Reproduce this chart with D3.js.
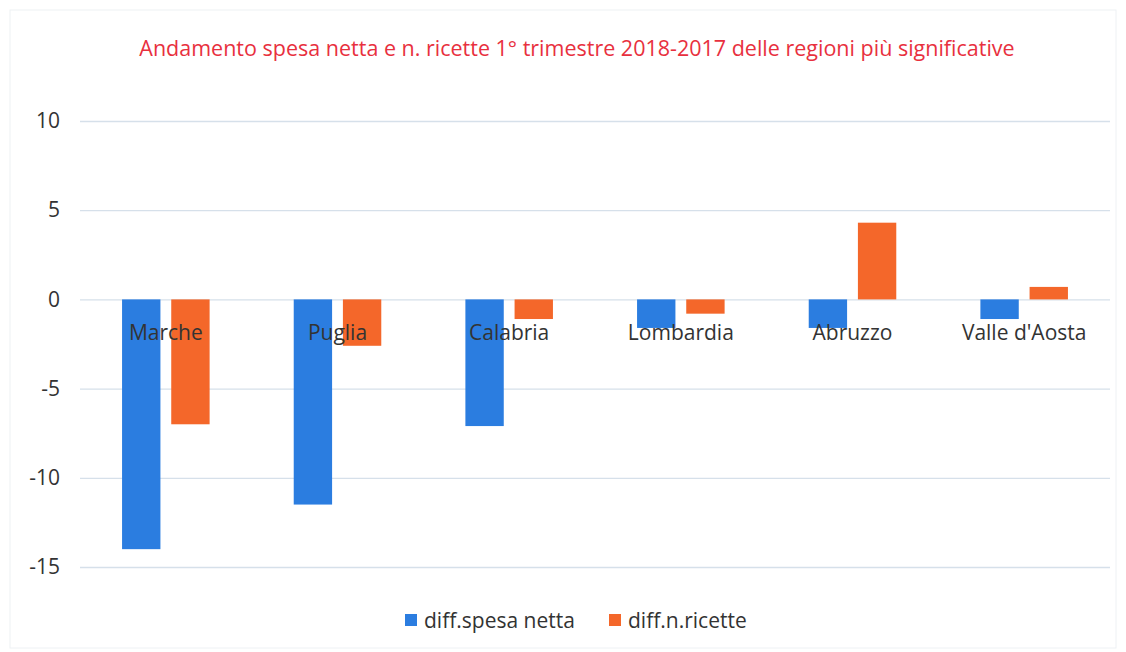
<!DOCTYPE html>
<html lang="it">
<head>
<meta charset="UTF-8">
<title>Andamento spesa netta e n. ricette</title>
<script src="https://d3js.org/d3.v7.min.js"></script>
<style>
  body { margin: 0; background: #fff; font-family: "Open Sans", sans-serif; }
  .grid line { stroke: #d6e0ea; stroke-width: 1.3; }
  .grid path { display: none; }
  .yaxis path, .yaxis line { display: none; }
  .yaxis text { font-size: 21px; fill: #333; font-family: "Open Sans", sans-serif; }
</style>
</head>
<body>
<div id="chart"></div>
<script>
// data
const regions = ["Marche", "Puglia", "Calabria", "Lombardia", "Abruzzo", "Valle d'Aosta"];
const spesaNetta = [-14.0, -11.5, -7.1, -1.6, -1.6, -1.1];
const nRicette   = [-7.0, -2.6, -1.1, -0.8, 4.3, 0.7];
const seriesNames = ["diff.spesa netta", "diff.n.ricette"];
const yTicks = [10, 5, 0, -5, -10, -15];

const colors = ["#2b7de0", "#f4672a"];

const W = 1126, H = 652;
const margin = {top: 121, right: 16, bottom: 85, left: 80};
const width = W - margin.left - margin.right,
      height = H - margin.top - margin.bottom;

const svg = d3.select("#chart").append("svg")
  .attr("width", W).attr("height", H);

// faint frame of the scanned page
svg.append("rect")
  .attr("x", 10).attr("y", 10).attr("width", W - 20).attr("height", H - 14)
  .attr("fill", "none").attr("stroke", "#eef1f4");

const g = svg.append("g").attr("transform", `translate(${margin.left},${margin.top})`);

const x = d3.scaleBand().domain(regions).range([0, width]).paddingInner(0.49).paddingOuter(0.245);
const xs = d3.scaleBand().domain(seriesNames).range([0, x.bandwidth()]).paddingInner(0.22);
const y = d3.scaleLinear().domain([-15, 10]).range([height, 0]);

// grid
g.append("g").attr("class", "grid")
  .call(d3.axisLeft(y).tickValues(yTicks).tickSize(-width).tickFormat(""));

// y labels (plain hyphen for negatives, like the original)
g.append("g").attr("class", "yaxis")
  .attr("transform", "translate(-20,0)")
  .call(d3.axisLeft(y).tickValues(yTicks).tickSize(0).tickPadding(0).tickFormat(d => String(d)));

const rows = regions.map((r, i) => ({region: r, values: [spesaNetta[i], nRicette[i]]}));

const groups = g.selectAll(".grp").data(rows).join("g")
  .attr("class", "grp")
  .attr("transform", d => `translate(${x(d.region)},0)`);

groups.selectAll("rect")
  .data(d => d.values.map((v, k) => ({k, v})))
  .join("rect")
  .attr("x", d => xs(seriesNames[d.k]))
  .attr("width", xs.bandwidth())
  .attr("y", d => y(Math.max(0, d.v)))
  .attr("height", d => Math.abs(y(d.v) - y(0)))
  .attr("fill", d => colors[d.k]);

// category labels next to the zero line
g.selectAll(".cat").data(regions).join("text")
  .attr("class", "cat")
  .attr("x", d => x(d) + x.bandwidth() / 2)
  .attr("y", y(0) + 41)
  .attr("text-anchor", "middle")
  .style("font-size", "21px")
  .style("fill", "#333")
  .text(d => d);

// title
svg.append("text")
  .attr("x", 577).attr("y", 56)
  .attr("text-anchor", "middle")
  .style("font-size", "21.5px")
  .style("fill", "#e8303e")
  .text("Andamento spesa netta e n. ricette 1° trimestre 2018-2017 delle regioni più significative");

// legend
const legend = svg.append("g").attr("transform", "translate(405,628)");
const items = legend.selectAll("g").data(seriesNames).join("g")
  .attr("transform", (d, i) => `translate(${i * 204},0)`);
items.append("rect")
  .attr("x", 0).attr("y", -14).attr("width", 12).attr("height", 12)
  .attr("fill", (d, i) => colors[i]);
items.append("text")
  .attr("x", 19).attr("y", 0)
  .style("font-size", "21px")
  .style("fill", "#333")
  .text(d => d);
</script>
</body>
</html>
